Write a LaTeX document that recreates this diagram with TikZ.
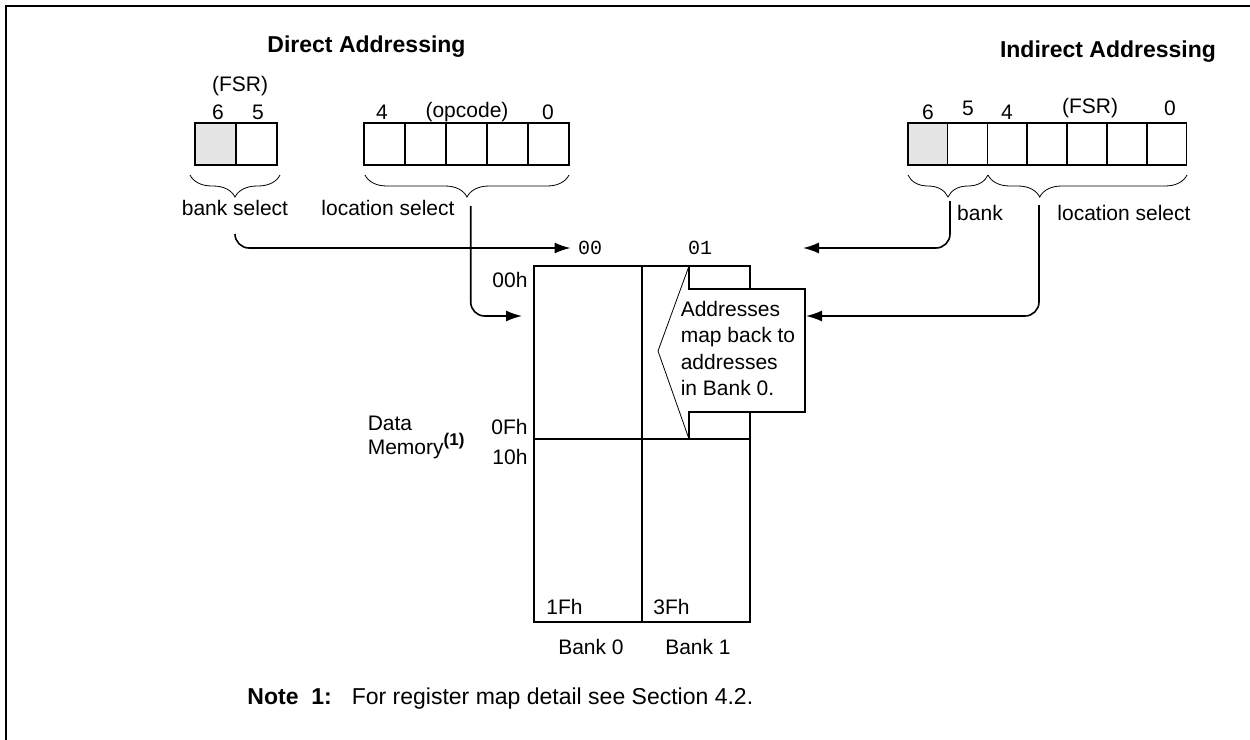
\documentclass[tikz,border=0pt]{standalone}
\usepackage{fontspec}
\setmainfont{Liberation Sans}
\setmonofont{Liberation Mono}
\usetikzlibrary{arrows.meta,decorations.pathreplacing}

\begin{document}
\begin{tikzpicture}[x=0.5pt,y=-0.5pt,line width=0.8pt,
        font=\fontsize{10.5}{13}\selectfont,>={Latex[length=8pt,width=5.5pt]}]
        \tikzstyle{bit}=[draw,minimum width=20.4pt,minimum height=21pt,inner sep=0pt]
        \tikzstyle{msb}=[bit,fill=black!10]
        \tikzstyle{brc}=[decorate,decoration={brace,mirror,amplitude=11pt},line width=0.4pt]
        \tikzstyle{bank}=[draw,minimum width=54pt,inner sep=0pt]
        \tikzstyle{feed}=[->,rounded corners=7pt]
        \tikzstyle{hdr}=[font=\fontsize{11.5}{14}\selectfont\bfseries]
        \tikzstyle{addr}=[font=\fontsize{10}{12}\selectfont\ttfamily]

        \useasboundingbox (0,0) rectangle (1250,740);
        \draw[line width=1pt] (6,740) -- (6,6) -- (1250,6);

        % Direct addressing: FSR bits and opcode
        \node[hdr,anchor=west] (dtitle) at (260,47) {Direct Addressing};
        \node[msb] (fsr-6) at (215.4,144) {};
        \node[bit] (fsr-5) at (256.3,144) {};
        \foreach \i in {0,...,4}
            \node[bit,minimum width=20.5pt] (op-\i) at ({384.5+41*\i},144) {};

        \node at (240,86) {(FSR)};
        \node at (218,112) {6};
        \node at (258,112) {5};
        \node at (382,112) {4};
        \node at (467,112) {(opcode)};
        \node at (548,112) {0};

        \draw[brc] (190,175) -- (280,175);
        \draw[brc] (365,175) -- (569,175);
        \node (bsel) at (235,208) {bank select};
        \node (dsel) at (388,208) {location select};

        % Indirect addressing: FSR register
        \node[hdr] (ititle) at (1108,52) {Indirect Addressing};
        \node[msb,minimum width=19.9pt] (ind-0) at (927.6,144) {};
        \foreach \i in {1,...,6}
            \node[bit,minimum width=19.9pt] (ind-\i) at ({927.6+39.86*\i},144) {};

        \node at (928,112) {6};
        \node at (968,108) {5};
        \node at (1007,112) {4};
        \node at (1090,108) {(FSR)};
        \node at (1170,108) {0};

        \draw[brc] (908,175) -- (988,175);
        \draw[brc,decoration={aspect=0.26}] (988,175) -- (1187,175);
        \node (ibank) at (980,213) {bank};
        \node (isel) at (1124,213) {location select};

        % Data memory banks
        \node[bank,minimum height=86.5pt] (mem0-top) at (588,352.5) {};
        \node[bank,minimum height=91.5pt] (mem0-bot) at (588,530.5) {};
        \node[bank,minimum height=86.5pt] (mem1-top) at (696,352.5) {};
        \node[bank,minimum height=91.5pt] (mem1-bot) at (696,530.5) {};

        \node[addr] (page0) at (590,248) {00};
        \node[addr] (page1) at (700,248) {01};

        \node[anchor=east] at (535,280) {00h};
        \node[anchor=east] at (535,427) {0Fh};
        \node[anchor=east] at (535,457) {10h};
        \node[anchor=west] at (539,607) {1Fh};
        \node[anchor=west] at (646,607) {3Fh};
        \node at (591,647) {Bank 0};
        \node at (698,647) {Bank 1};
        \node[align=left,anchor=north west,inner sep=0pt,
            font=\fontsize{10.5}{12}\selectfont] (dmem) at (367,415.5)
            {Data\\Memory\raisebox{0.42em}{\fontsize{8.5}{10}\selectfont\bfseries(1)}};

        % Bank 1 callout
        \fill[white] (689,266) -- (689,289) -- (805,289) -- (805,412)
            -- (689,412) -- (689,439) -- (658,351) -- cycle;
        \draw (689,266) -- (689,289) -- (805,289) -- (805,412)
            -- (689,412) -- (689,439);
        \draw[line width=0.4pt] (689,439) -- (658,351) -- (689,266);
        \node[align=left,anchor=north west,inner sep=0pt,
            font=\fontsize{10.5}{13.3}\selectfont] (map) at (680,300)
            {Addresses\\map back to\\addresses\\in Bank 0.};

        % Connections
        \coordinate (bsel-out) at (235,234);
        \coordinate (dsel-out) at (470.7,206);
        \coordinate (ibank-out) at (950,201);
        \coordinate (isel-out) at (1039,205);
        \coordinate (mem-in) at (522,316);
        \coordinate (page1-in) at (803,248);
        \coordinate (map-in) at (806,316);

        \draw[feed] (bsel-out) |- (page0.west);
        \draw[feed] (dsel-out) |- (mem-in);
        \draw[feed] (ibank-out) |- (page1-in);
        \draw[feed] (isel-out) |- (map-in);

        \node[anchor=west,font=\fontsize{11.5}{14}\selectfont] (note) at (240,699)
            {\textbf{Note\ \ 1:}\hspace{10pt}For register map detail see Section 4.2.};
    \end{tikzpicture}
\end{document}
